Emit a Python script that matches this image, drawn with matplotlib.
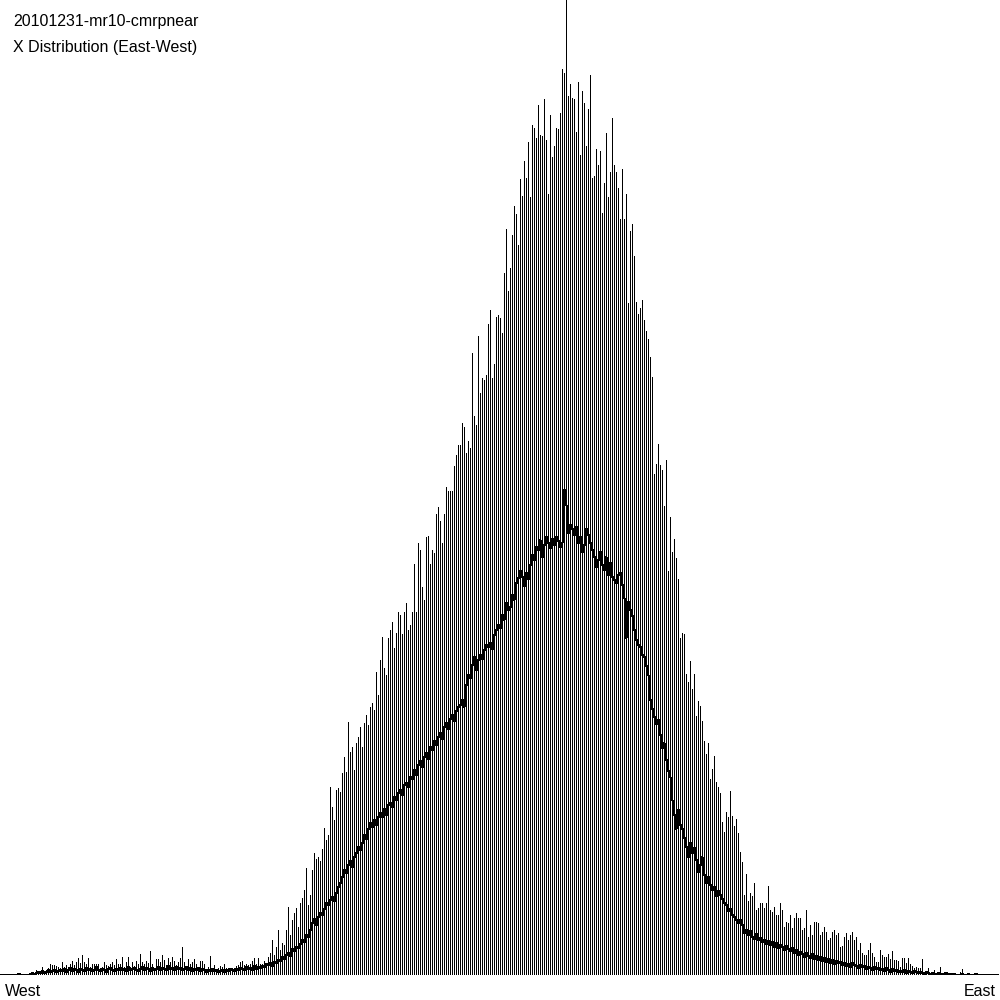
import numpy as np
import matplotlib
matplotlib.use("Agg")
import matplotlib.pyplot as plt

title_line1 = "20101231-mr10-cmrpnear"
title_line2 = "X Distribution (East-West)"
left_label = "West"
right_label = "East"

# Counts per bin (500 bins, West -> East) for the main distribution (tall bars)
counts_west_tail = [
    0, 0, 0, 0, 0, 0, 0, 0, 1, 2, 1, 0, 0, 0, 1,
    3, 2, 5, 3, 1, 8, 3, 2,
    7, 11, 10, 10, 9, 8, 7,
    13, 8, 10, 8, 11, 14, 10, 13, 17, 12,
    20, 13, 11, 17, 8, 11, 11, 11, 11, 7,
    8, 13, 10, 9, 11, 13, 10, 16, 11, 11,
    18, 8, 13, 18, 8, 13, 9, 14, 11, 21,
    13, 11, 14, 12, 24, 11, 7, 16, 16, 13,
    20, 15, 10, 17, 13, 18, 14, 10, 13, 17,
    28, 13, 8, 16, 11, 13, 16, 11, 6, 14,
    14, 11, 6, 8, 19, 7, 10, 6, 7, 9,
    8, 11, 7, 7, 7, 7, 7, 9, 10, 13,
    14, 10, 11, 10, 11, 14, 17, 11, 17, 11,
]
counts_west_rise = [
    11, 14, 12, 18, 22, 35, 20, 28, 45, 25,
    32, 30, 45, 68, 40, 55, 62, 67, 48, 72,
    77, 85, 107, 70, 80, 105, 122, 116, 118, 114,
    126, 147, 135, 140, 188, 168, 155, 185, 187, 183,
    202, 218, 203, 253, 223, 228, 205, 232, 238, 248,
    228, 252, 260, 250, 268, 272, 265, 303, 280, 315,
    338, 307, 300, 337, 345, 353, 327, 342, 363, 360,
]
counts_west_upper = [
    341, 363, 372, 345, 350, 363, 411, 363, 432, 425,
    388, 375, 438, 439, 411, 425, 422,
    461, 468, 454, 432, 461, 488, 484, 484, 484, 509,
    520, 530, 530, 552, 548, 522, 534, 527, 622, 559,
    550, 639, 582, 597, 595, 600, 651, 665, 597, 611,
    658, 660, 657, 642, 702, 746, 684, 707, 740, 769,
    761, 730, 796,
]
counts_peak = [
    779, 814, 797, 833, 778, 850, 847, 837, 870, 840,
    839, 876, 835, 781, 860, 818, 829, 847, 846, 862,
    906, 902, 975, 879, 891, 877, 876, 843, 893, 820,
    884, 872, 829, 866, 900, 797, 799, 826, 810, 824,
    762, 792, 842, 778, 803, 857, 810, 803, 787, 756,
]
counts_east_fall = [
    806, 756, 781, 672, 744, 751, 719, 673, 661, 667,
    675, 655, 644, 636, 618, 598, 501, 511, 531, 510,
    505, 469, 515, 404, 458, 423, 436, 417, 396, 337,
    342, 341, 301, 293, 314, 286, 301, 259, 274, 269,
    254, 234, 221, 232, 196, 206, 219, 193, 188, 182,
    153, 143, 163, 158, 184, 159, 149, 156, 142, 123,
]
counts_east_tail = [
    113, 80, 101, 74, 82, 79, 92, 65, 67, 72,
    72, 67, 72, 89, 65, 63, 68, 60, 60, 72,
    65, 48, 53, 52, 60, 47, 57, 62, 57, 57,
    45, 47, 65, 38, 50, 40, 53, 53, 52, 40,
    43, 48, 43, 35, 37, 43, 45, 40, 42, 28,
    29, 38, 42, 35, 40, 43, 35, 38, 25, 32,
    22, 20, 20, 25, 32, 22, 18, 13, 13, 25,
    20, 18, 18, 21, 16, 24, 15, 15, 14, 8,
    17, 17, 12, 17, 11, 9, 7, 8, 7, 7,
    16, 0, 2, 7, 2, 2, 5, 2, 3, 8,
    2, 3, 0, 2, 0, 2, 2, 1, 1, 3,
    6, 0, 0, 0, 0, 0, 2, 0, 1, 0,
    1, 0, 0, 0, 0, 0, 0, 0, 0, 0,
]

# Secondary (lower) distribution drawn as a line, same 500 bins
secondary_counts = [
    0, 0, 0, 0, 0, 0, 0, 0, 0, 1, 0, 0, 0, 0, 0,
    1, 2, 1, 2, 3, 2, 4, 2, 3, 5, 3, 4, 5, 3, 4,
    5, 4, 6, 3, 5, 7, 4, 6, 5, 3, 6, 5, 4, 7, 5, 6, 4, 5, 8, 5,
    4, 6, 5, 3, 6, 7, 5, 4, 6, 5, 7, 5, 6, 4, 8, 5, 6, 7, 5, 4,
    6, 8, 5, 7, 6, 4, 7, 5, 6, 8, 5, 7, 6, 5, 9, 6, 7, 5, 8, 6,
    7, 5, 6, 8, 5, 7, 4, 6, 5, 7, 4, 6, 5, 3, 5, 4, 6, 4, 5, 3,
    4, 5, 3, 5, 4, 6, 5, 4, 6, 5, 7, 6, 5, 8, 6, 7, 5, 9, 6, 8,
    7, 9, 8, 11, 10, 12, 9, 13, 12, 15,
    14, 18, 16, 20, 22, 19, 26, 24, 28, 27,
    31, 35, 33, 40, 38, 45, 52, 56, 50, 58,
    62, 60, 66, 72, 70, 75, 78, 74, 82, 88,
    92, 98, 105, 102, 110, 114, 108, 118, 122, 128,
    125, 132, 140, 136, 146, 152, 148, 155, 150, 158,
    162, 158, 166, 160, 170, 172, 168, 178, 175, 182,
    185, 180, 190, 192, 188, 198, 196, 205, 200, 210,
    214, 208, 218, 222, 216, 228, 225, 234, 230, 238,
    242, 236, 248, 252, 246, 256, 260, 254, 264, 268,
    270, 275, 268, 290, 300, 297, 310, 318, 305, 315,
    320, 316, 325, 330, 328, 332, 326, 340, 345, 350,
    347, 360, 355, 372, 365, 368, 380, 375, 392, 397,
    404, 398, 389, 402, 396, 410, 420, 415, 428, 425,
    435, 418, 430, 438, 432, 427, 436, 430, 438, 434,
    428, 432, 485, 470, 442, 450, 446, 440, 448, 432,
    438, 423, 430, 446, 440, 432, 425, 418, 408, 415,
    423, 410, 405, 418, 400, 412, 398, 395, 392, 400,
    402, 390, 377, 337, 373, 365, 359, 345, 335, 330,
    328, 320, 318, 309, 300, 275, 266, 258, 251, 255,
    240, 227, 232, 215, 204, 198, 175, 160, 146, 165,
    150, 146, 137, 128, 118, 132, 122, 127, 115, 103,
    110, 118, 100, 92, 98, 90, 85, 88, 79, 84,
    80, 76, 72, 70, 64, 66, 60, 58, 55, 52,
    55, 50, 42, 45, 40, 44, 38, 36, 41, 35,
    37, 33, 35, 31, 34, 30, 33, 28, 32, 27,
    30, 28, 25, 29, 26, 24, 27, 22, 25, 20,
    23, 21, 18, 22, 19, 17, 21, 16, 19, 15,
    18, 14, 17, 13, 16, 12, 15, 11, 14, 12,
    13, 10, 12, 9, 11, 8, 12, 10, 9, 7,
    10, 8, 9, 6, 8, 7, 5, 8, 6, 7,
    5, 6, 4, 7, 5, 3, 6, 4, 5, 3,
    4, 3, 5, 2, 4, 3, 2, 4, 3, 2,
    3, 2, 1, 3, 2, 1, 2, 0, 1, 2,
    1, 0, 1, 2, 0, 1, 0, 1, 0, 0,
    0, 1, 0, 0, 1, 0, 0, 0, 1, 0,
    0, 0, 0, 0, 0, 0, 0, 0, 0, 0,
]

main_counts = (counts_west_tail + counts_west_rise + counts_west_upper
               + counts_peak + counts_east_fall + counts_east_tail)
n_bins = len(main_counts)

fig = plt.figure(figsize=(10, 10), dpi=100)
ax = fig.add_axes([0, 0.025, 1, 0.975])
ax.set_xlim(0, 2 * n_bins)
ax.set_ylim(0, 975)
ax.axis("off")

bins = np.arange(n_bins)
ax.vlines(bins * 2 + 1.5, 0, main_counts, colors="black",
          linewidth=0.72, antialiased=False)
ax.plot(bins[:len(secondary_counts)] * 2 + 0.5, secondary_counts,
        color="black", linewidth=0.72, antialiased=False)

font = ["Liberation Sans", "DejaVu Sans"]
fig.text(13 / 1000, 1 - 21.5 / 1000, title_line1, fontsize=11.5,
         family=font, va="center", ha="left")
fig.text(13 / 1000, 1 - 47.5 / 1000, title_line2, fontsize=11.5,
         family=font, va="center", ha="left")
fig.text(5 / 1000, 1 - 991 / 1000, left_label, fontsize=11.5,
         family=font, va="center", ha="left")
fig.text(996 / 1000, 1 - 991 / 1000, right_label, fontsize=11.5,
         family=font, va="center", ha="right")

fig.savefig("out.png", dpi=100, facecolor="white")
